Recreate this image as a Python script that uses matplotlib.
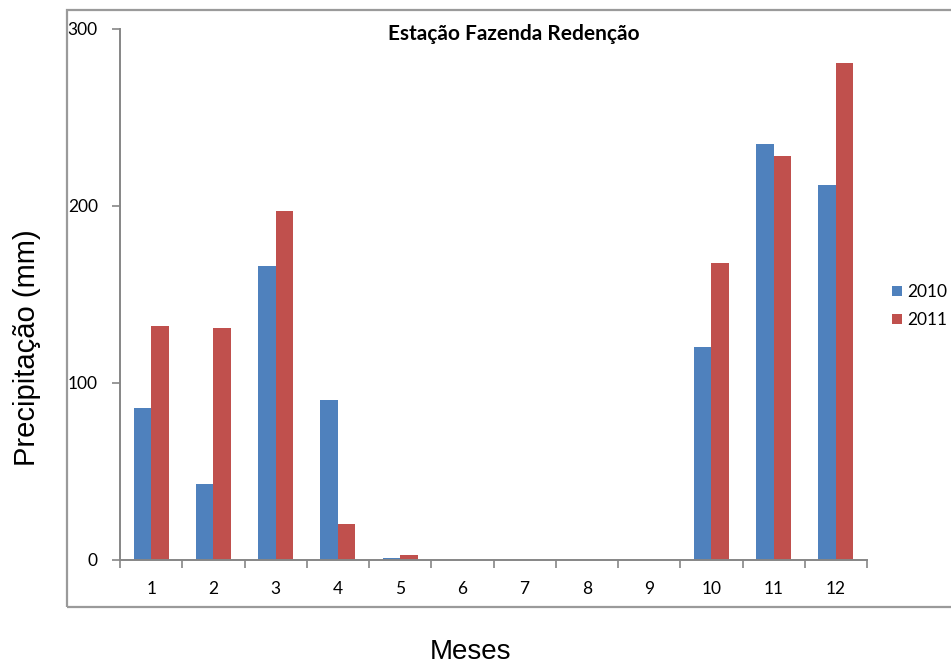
import matplotlib
matplotlib.use("Agg")
import matplotlib.pyplot as plt
import numpy as np
from matplotlib.patches import Rectangle

months = ["1", "2", "3", "4", "5", "6", "7", "8", "9", "10", "11", "12"]
y2010 = [86, 43, 166, 90, 1, 0, 0, 0, 0, 120, 235, 212]
y2011 = [132, 131, 197, 20, 2.6, 0, 0, 0, 0, 168, 228, 281]
yticks = [0, 100, 200, 300]

blue = "#4F81BD"
red = "#C0504D"
grey = "#868686"

fig = plt.figure(figsize=(9.51, 6.67), dpi=100)
# outer chart border
fig.patches.append(Rectangle((67/951, (667-607)/667), 1.0, (607-10)/667,
                             transform=fig.transFigure, fill=False,
                             edgecolor="#9a9a9a", linewidth=1.6, clip_on=False))

ax = fig.add_axes([120/951, (667-559.7)/667, 747/951, 530.7/667])
x = np.arange(1, len(months) + 1)
w = 0.28
ax.bar(x - w/2, y2010, w, color=blue, label="2010")
ax.bar(x + w/2, y2011, w, color=red, label="2011")

ax.set_xlim(0.5, 12.5)
ax.set_ylim(0, 300)
ax.set_yticks(yticks)
ax.set_yticklabels([str(v) for v in yticks], fontsize=12.5, family=["Lato", "DejaVu Sans"])
ax.set_xticks(x)
ax.set_xticklabels(months, fontsize=12.5, family=["Lato", "DejaVu Sans"])
ax.tick_params(axis="x", length=0, pad=15)
ax.set_xticks(np.arange(0.5, 12.6, 1), minor=True)
ax.tick_params(axis="x", which="minor", length=6, color=grey, width=1.2, direction="out")
ax.tick_params(axis="y", length=6, color=grey, width=1.2, pad=10)
for s in ["top", "right"]:
    ax.spines[s].set_visible(False)
for s in ["left", "bottom"]:
    ax.spines[s].set_color(grey)
    ax.spines[s].set_linewidth(1.4)

fig.text(514/951, 1 - 34/667, "Estação Fazenda Redenção", ha="center", va="center",
         fontsize=15, fontweight="bold", family=["Lato", "DejaVu Sans"])
fig.text(27/951, 1 - 348/667, "Precipitação (mm)", rotation=90, ha="center", va="center",
         fontsize=21, family=["Liberation Sans", "DejaVu Sans"])
fig.text(470/951, 1 - 652/667, "Meses", ha="center", va="center",
         fontsize=20, family=["Liberation Sans", "DejaVu Sans"])

leg = fig.legend(loc="center left", bbox_to_anchor=(892/951, 1 - 306/667), frameon=False,
                 prop={"family": ["Lato", "DejaVu Sans"], "size": 12.5},
                 handlelength=0.55, handleheight=0.55, handletextpad=0.3, labelspacing=0.7,
                 borderpad=0, borderaxespad=0)

fig.savefig("out.png", dpi=100)
